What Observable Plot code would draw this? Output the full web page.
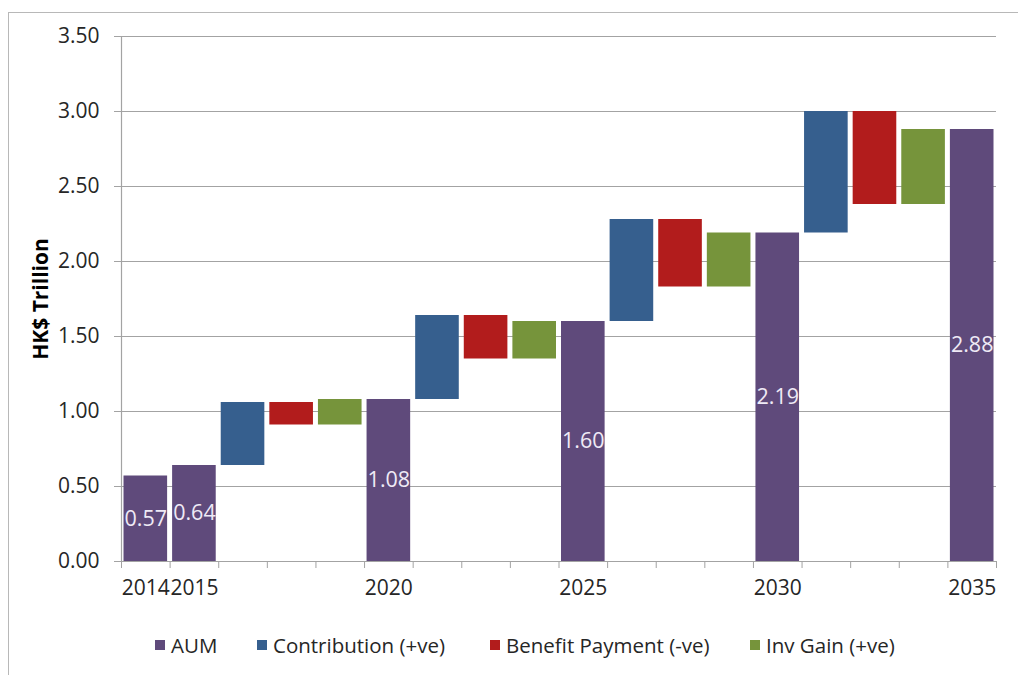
<!DOCTYPE html>
<html>
<head>
<meta charset="utf-8">
<script src="https://cdn.jsdelivr.net/npm/d3@7"></script>
<script src="https://cdn.jsdelivr.net/npm/@observablehq/plot@0.6"></script>
<style>
  html, body { margin: 0; padding: 0; background: #ffffff; }
  body { width: 1018px; height: 675px; position: relative; overflow: hidden; font-family: "Open Sans", sans-serif; }
  #frame { position: absolute; left: 8px; top: 12px; width: 1030px; height: 700px; border-left: 1px solid #b8b8b8; border-top: 1px solid #b8b8b8; }
  #chart { position: absolute; left: 0; top: 0; }
  #chart svg g[aria-label="y-axis label"] text { font-weight: bold; font-size: 21px; fill: #000; }
  #legend { position: absolute; top: 632px; left: 0; width: 1018px; height: 26px; font-size: 20.5px; color: #262626; }
  #legend .item { position: absolute; top: 0; display: flex; align-items: center; height: 26px; white-space: nowrap; }
  #legend .sw { width: 10px; height: 10px; margin-right: 6px; display: inline-block; }
</style>
</head>
<body>
<div id="frame"></div>
<div id="chart"></div>
<div id="legend"></div>
<script>
// ---- data ----
const aumYears = ["2014", "2015", "2020", "2025", "2030", "2035"];
const aumValues = [0.57, 0.64, 1.08, 1.60, 2.19, 2.88];
// flows for periods 2015-2020, 2020-2025, 2025-2030, 2030-2035
const contribution = [0.42, 0.56, 0.68, 0.81];
const benefitPayment = [-0.15, -0.29, -0.45, -0.62];
const invGain = [0.17, 0.25, 0.36, 0.50];
const seriesNames = ["AUM", "Contribution (+ve)", "Benefit Payment (-ve)", "Inv Gain (+ve)"];
const seriesColors = ["#5f4a7b", "#365f8e", "#b21c1c", "#76943b"];
const yTicks = [0, 0.5, 1, 1.5, 2, 2.5, 3, 3.5];

// ---- build waterfall rows ----
const rows = [];
const labels = [];
let idx = 0;
rows.push({i: idx, kind: "AUM", y1: 0, y2: aumValues[0], label: aumValues[0]}); labels.push(aumYears[0]); idx++;
rows.push({i: idx, kind: "AUM", y1: 0, y2: aumValues[1], label: aumValues[1]}); labels.push(aumYears[1]); idx++;
for (let p = 0; p < contribution.length; p++) {
  let level = aumValues[p + 1];
  const flows = [[seriesNames[1], contribution[p]], [seriesNames[2], benefitPayment[p]], [seriesNames[3], invGain[p]]];
  for (const [k, v] of flows) {
    rows.push({i: idx, kind: k, y1: level, y2: level + v});
    labels.push("");
    level += v; idx++;
  }
  rows.push({i: idx, kind: "AUM", y1: 0, y2: aumValues[p + 2], label: aumValues[p + 2]});
  labels.push(aumYears[p + 2]); idx++;
}
const n = rows.length;
const aumRows = rows.filter(d => d.kind === "AUM");

const chart = Plot.plot({
  width: 1018,
  height: 600,
  marginLeft: 121,
  marginRight: 22,
  marginTop: 36,
  marginBottom: 39,
  style: {fontFamily: "'Open Sans', sans-serif", fontSize: "21px", color: "#262626", background: "transparent", overflow: "visible"},
  x: {type: "linear", domain: [0, n]},
  y: {domain: [0, 3.5]},
  color: {domain: seriesNames, range: seriesColors},
  marks: [
    Plot.gridY(yTicks, {stroke: "#a3a3a3", strokeOpacity: 1, strokeWidth: 1.2}),
    Plot.rectY(rows, {x1: "i", x2: d => d.i + 1, y1: "y1", y2: "y2", fill: "kind", insetLeft: 2.5, insetRight: 2.5}),
    Plot.text(aumRows, {x: d => d.i + 0.5, y: d => d.y2 / 2, text: d => d.label.toFixed(2), fill: "#efeaf6", fontSize: 21.5}),
    Plot.ruleX([0], {stroke: "#a3a3a3", strokeWidth: 1.2}),
    Plot.ruleY([0], {stroke: "#a3a3a3", strokeWidth: 1.2}),
    Plot.axisY(yTicks, {tickFormat: d3.format(".2f"), tickSize: 7, tickPadding: 15, stroke: "#a3a3a3", fill: "#262626", fontSize: 21,
      label: "HK$ Trillion", labelAnchor: "center", labelArrow: "none", labelOffset: 88}),
    Plot.axisX(d3.range(n + 1), {tickFormat: () => "", tickSize: 7, stroke: "#a3a3a3", label: null}),
    Plot.axisX(aumRows.map(d => d.i + 0.5), {tickFormat: v => labels[Math.floor(v)], tickSize: 0, tickPadding: 19, fill: "#262626", fontSize: 21, label: null})
  ]
});
document.getElementById("chart").appendChild(chart);

// ---- legend ----
const legendX = [155, 257, 490, 750];
const legend = document.getElementById("legend");
seriesNames.forEach((name, k) => {
  const item = document.createElement("div");
  item.className = "item";
  item.style.left = legendX[k] + "px";
  const sw = document.createElement("span");
  sw.className = "sw";
  sw.style.background = seriesColors[k];
  item.appendChild(sw);
  item.appendChild(document.createTextNode(name));
  legend.appendChild(item);
});
</script>
</body>
</html>
